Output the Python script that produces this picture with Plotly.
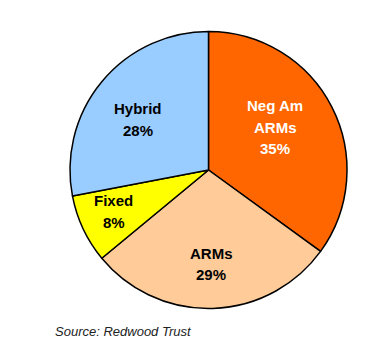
import math
import plotly.graph_objects as go

# Loan type mix
categories = ["Neg Am ARMs", "ARMs", "Fixed", "Hybrid"]
label_lines = [["Neg Am", "ARMs"], ["ARMs"], ["Fixed"], ["Hybrid"]]
shares = [35, 29, 8, 28]
slice_colors = ["#FF6600", "#FFCC99", "#FFFF00", "#99CCFF"]
text_colors = ["#FFFFFF", "#000000", "#000000", "#000000"]
label_radius = [0.572, 0.68, 0.746, 0.624]  # fraction of pie radius for each label block
label_turn = [-5.5, 0.0, 1.4, -4.0]         # degrees nudged off each slice's mid-angle

W, H = 379, 341
M_L, M_R, M_T, M_B = 70, 32, 31, 32
PIE_R = min(W - M_L - M_R, H - M_T - M_B) / 2
LINE_GAP = 21.5
FONT = "Liberation Sans, Arial, sans-serif"

fig = go.Figure(
    go.Pie(
        labels=categories,
        values=shares,
        sort=False,
        direction="clockwise",
        rotation=0,
        marker=dict(colors=slice_colors, line=dict(color="#000000", width=1.5)),
        textinfo="none",
        hoverinfo="skip",
        showlegend=False,
    )
)

# Slice labels placed along each slice's mid-angle
total = sum(shares)
cum = 0
for lines, val, col, frac, turn in zip(label_lines, shares, text_colors, label_radius, label_turn):
    mid = (cum + val / 2) / total * 2 * math.pi + math.radians(turn)
    cum += val
    dx = frac * PIE_R * math.sin(mid)
    dy = frac * PIE_R * math.cos(mid)
    rows = lines + [f"{val}%"]
    n = len(rows)
    for k, row in enumerate(rows):
        fig.add_annotation(
            text=f"<b>{row}</b>",
            xref="paper", yref="paper", x=0.5, y=0.5,
            xshift=dx, yshift=dy - (k - (n - 1) / 2) * LINE_GAP,
            xanchor="center", yanchor="middle",
            showarrow=False,
            font=dict(family=FONT, size=15, color=col),
        )

fig.add_annotation(
    text="<i>Source: Redwood Trust</i>",
    xref="paper", yref="paper",
    x=(53 - M_L) / (W - M_L - M_R), y=((H - M_B) - 331) / (H - M_T - M_B),
    xanchor="left", yanchor="middle",
    showarrow=False,
    font=dict(family=FONT, size=13, color="#222222"),
)

fig.update_layout(
    width=W, height=H,
    margin=dict(l=M_L, r=M_R, t=M_T, b=M_B),
    paper_bgcolor="#FFFFFF",
    plot_bgcolor="#FFFFFF",
)

fig.write_html("out.html")
